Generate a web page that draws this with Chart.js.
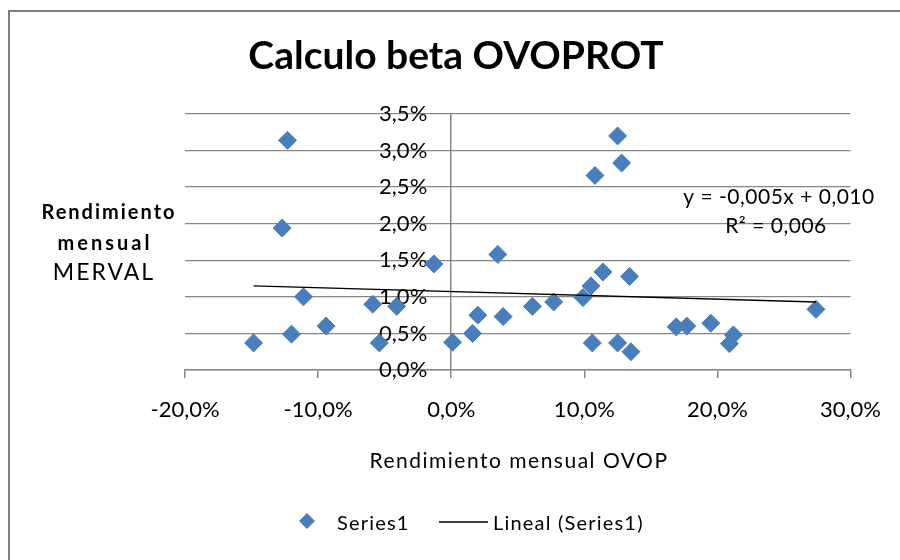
<!DOCTYPE html>
<html>
<head>
<meta charset="utf-8">
<script src="https://cdn.jsdelivr.net/npm/chart.js@4.4.1/dist/chart.umd.min.js"></script>
<style>
  html, body { margin: 0; padding: 0; background: #fff; }
  #wrap { width: 900px; height: 560px; }
</style>
</head>
<body>
<div id="wrap"><canvas id="beta" width="900" height="560"></canvas></div>
<script>
// Rendimiento mensual OVOP (x) vs MERVAL (y), en fracciones
const ovop = [-0.1485, -0.123, -0.127, -0.120, -0.111, -0.094, -0.059, -0.054, -0.041, -0.013,
  0.001, 0.016, 0.020, 0.035, 0.039, 0.061, 0.077, 0.099, 0.105, 0.106, 0.108, 0.114,
  0.125, 0.125, 0.128, 0.134, 0.135, 0.169, 0.177, 0.195, 0.209, 0.212, 0.274];
const merval = [0.0037, 0.0314, 0.0194, 0.0049, 0.0100, 0.0060, 0.0090, 0.0037, 0.0087, 0.0145,
  0.0038, 0.0050, 0.0075, 0.0158, 0.0073, 0.0087, 0.0093, 0.0099, 0.0115, 0.0037, 0.0266, 0.0134,
  0.0320, 0.0037, 0.0283, 0.0128, 0.0025, 0.0059, 0.0060, 0.0064, 0.0036, 0.0048, 0.0083];
// linea de tendencia tal como aparece (extremos)
const trendX = [-0.1485, 0.274];
const trendY = [0.0115, 0.0093];
const eqText = ['y = -0,005x + 0,010', 'R\u00B2 = 0,006'];

const pct = v => (v * 100).toFixed(1).replace('.', ',') + '%';
const BLUE = '#4a7ebb';
const GRAY = '#868686';
const CLEAR = 'rgba(0,0,0,0)';

const extras = {
  id: 'extras',
  beforeDraw(chart) {
    const c = chart.ctx;
    c.save();
    c.fillStyle = '#fff';
    c.fillRect(0, 0, chart.width, chart.height);
    c.strokeStyle = '#808080';
    c.lineWidth = 2;
    c.strokeRect(9, 11, 900, 560);
    c.restore();
  },
  afterDraw(chart) {
    const c = chart.ctx;
    c.save();
    c.fillStyle = '#000';
    c.textAlign = 'center';
    c.textBaseline = 'middle';

    c.font = 'bold 39px Lato';
    c.fillText('Calculo beta OVOPROT', 456, 56);

    c.letterSpacing = '2px';
    c.font = 'bold 20px Lato';
    c.fillText('Rendimiento', 109, 213);
    c.letterSpacing = '3px';
    c.fillText('mensual', 105, 244);
    c.letterSpacing = '2px';
    c.font = '23px Lato';
    c.fillText('MERVAL', 104, 273);

    c.letterSpacing = '1.5px';
    c.font = '21px Lato';
    c.fillText('Rendimiento mensual OVOP', 519, 461);

    c.letterSpacing = '0.5px';
    c.font = '21px Lato';
    c.fillText(eqText[0], 779, 197);
    c.fillText(eqText[1], 776, 226);

    // leyenda
    c.letterSpacing = '1.2px';
    c.font = '20px Lato';
    c.textAlign = 'left';
    c.fillStyle = BLUE;
    c.beginPath();
    c.moveTo(307, 513); c.lineTo(315, 521); c.lineTo(307, 529); c.lineTo(299, 521);
    c.closePath(); c.fill();
    c.fillStyle = '#000';
    c.fillText('Series1', 337, 524);
    c.strokeStyle = '#000';
    c.lineWidth = 1.3;
    c.beginPath(); c.moveTo(439, 522); c.lineTo(488, 522); c.stroke();
    c.fillText('Lineal (Series1)', 493, 524);
    c.restore();
  }
};

new Chart(document.getElementById('beta'), {
  type: 'scatter',
  data: {
    datasets: [
      {
        label: 'Series1',
        data: ovop.map((x, i) => ({ x: x, y: merval[i] })),
        pointStyle: 'rectRot',
        pointRadius: 9,
        pointHoverRadius: 9,
        backgroundColor: BLUE,
        borderColor: BLUE,
        borderWidth: 1,
        order: 2
      },
      {
        label: 'Lineal (Series1)',
        type: 'line',
        data: trendX.map((x, i) => ({ x: x, y: trendY[i] })),
        borderColor: '#000',
        borderWidth: 1.3,
        pointRadius: 0,
        showLine: true,
        order: 1
      }
    ]
  },
  options: {
    responsive: false,
    animation: false,
    layout: { padding: { left: 185, right: 47, top: 114, bottom: 130 } },
    plugins: { legend: { display: false }, title: { display: false }, tooltip: { enabled: false } },
    scales: {
      x: {
        type: 'linear',
        position: 'bottom',
        min: -0.2, max: 0.3,
        afterFit: s => { s.height = 60; },
        ticks: { stepSize: 0.1, callback: v => pct(v), padding: 19, color: '#000', font: { family: 'Lato', size: 22 } },
        // solo la linea vertical en x = 0 (eje Y) se dibuja sobre el area
        grid: {
          drawOnChartArea: true, drawTicks: true, tickLength: 8,
          color: ctx => (ctx.tick && ctx.tick.value === 0 ? GRAY : CLEAR),
          tickColor: GRAY, lineWidth: 1.5
        },
        border: { display: true, color: GRAY, width: 1.5 }
      },
      y: {
        type: 'linear',
        position: { x: -0.018 },
        min: 0, max: 0.035,
        afterFit: s => { s.width = 0; },
        ticks: { stepSize: 0.005, callback: v => pct(v), padding: 0, color: '#000', font: { family: 'Lato', size: 22 } },
        grid: { drawTicks: false, color: GRAY, lineWidth: 1.3 },
        border: { display: false }
      }
    }
  },
  plugins: [extras]
});
</script>
</body>
</html>
